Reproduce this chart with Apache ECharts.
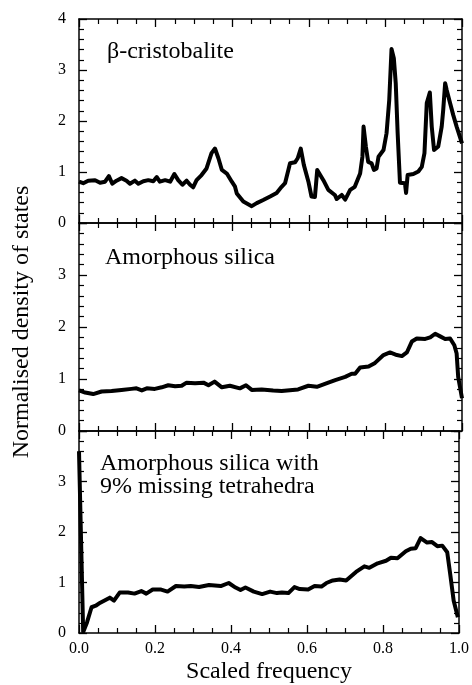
<!DOCTYPE html>
<html>
<head>
<meta charset="utf-8">
<script src="https://cdn.jsdelivr.net/npm/echarts@6/dist/echarts.min.js"></script>
<style>
  html, body { margin: 0; padding: 0; background: #fff; }
  #chart { width: 472px; height: 685px; }
</style>
</head>
<body>
<div id="chart"></div>
<script>
// scaled frequency (x) and normalised DOS (y)
var cristFreq = [0, .011, .024, .042, .055, .068, .078, .087, .098, .111, .124, .133, .146, .155, .168, .181, .194, .203, .211, .225,
  .238, .249, .259, .27, .281, .29, .298, .307, .32, .333, .346, .355, .364, .373, .386, .399, .407, .412, .429, .451,
  .464, .481, .499, .516, .529, .538, .551, .564, .571, .579, .587, .599, .607, .616, .622, .627, .638, .651, .668, .673,
  .686, .695, .708, .72, .734, .74, .743, .749, .755, .764, .77, .777, .782, .795, .803, .81, .816, .822, .827, .832,
  .838, .851, .854, .858, .873, .886, .895, .902, .908, .916, .921, .927, .938, .947, .951, .956, .96, .969, .977, .986, 1.0];
var cristDos = [.81, .78, .83, .84, .79, .81, .92, .77, .83, .88, .83, .77, .83, .77, .82, .84, .82, .90, .81, .84,
  .81, .96, .84, .75, .83, .75, .70, .84, .94, 1.07, 1.37, 1.46, 1.27, 1.04, .97, .81, .72, .58, .42, .33,
  .39, .45, .52, .59, .71, .78, 1.17, 1.19, 1.27, 1.46, 1.14, .81, .52, .51, 1.04, 1.07, .84, .65, .55, .47,
  .55, .46, .65, .71, .97, 1.3, 1.89, 1.5, 1.2, 1.17, 1.04, 1.07, 1.3, 1.43, 1.76, 2.41, 3.41, 3.23, 2.74, 1.76,
  .79, .78, .59, .94, .96, 1.01, 1.10, 1.37, 2.35, 2.56, 1.89, 1.43, 1.5, 1.89, 2.22, 2.74, 2.61, 2.35, 2.12, 1.89, 1.56];

var amorFreq = [0, .016, .037, .059, .085, .111, .137, .15, .164, .177, .198, .216, .233, .251, .268, .281, .303, .325, .338, .354,
  .373, .394, .42, .436, .451, .477, .507, .529, .572, .599, .621, .651, .669, .695, .712, .721, .734, .756, .773, .795,
  .812, .83, .843, .856, .869, .882, .904, .917, .93, .943, .956, .969, .98, .986, .99, 1.0];
var amorDos = [.78, .74, .71, .76, .77, .79, .81, .82, .78, .82, .81, .84, .88, .86, .87, .93, .92, .93, .88, .95,
  .84, .87, .82, .88, .79, .80, .78, .77, .80, .87, .85, .93, .98, 1.04, 1.10, 1.10, 1.22, 1.24, 1.31, 1.46,
  1.51, 1.46, 1.44, 1.51, 1.72, 1.78, 1.77, 1.80, 1.87, 1.82, 1.77, 1.78, 1.65, 1.49, 1.04, .63];

var missFreq = [0, .011, .021, .033, .044, .056, .081, .092, .107, .129, .146, .164, .177, .194, .216, .233, .255, .277, .294, .316,
  .342, .373, .394, .412, .425, .438, .46, .482, .503, .521, .534, .551, .567, .581, .603, .62, .638, .651, .668, .686,
  .703, .729, .751, .764, .786, .808, .821, .838, .86, .873, .886, .899, .916, .929, .943, .956, .969, .977, .986, .997];
var missDos = [3.6, .02, .21, .51, .54, .60, .70, .64, .80, .80, .78, .83, .78, .86, .86, .82, .93, .92, .93, .91,
  .95, .93, .99, .90, .85, .90, .82, .77, .82, .79, .80, .79, .91, .87, .86, .93, .92, .99, 1.04, 1.06,
  1.04, 1.21, 1.32, 1.29, 1.38, 1.43, 1.49, 1.48, 1.62, 1.67, 1.68, 1.88, 1.79, 1.80, 1.72, 1.73, 1.60, 1.16, .64, .31];

var panelNames = ['β-cristobalite', 'Amorphous silica', 'Amorphous silica with\n9% missing tetrahedra'];

function pairs(xs, ys) {
  return xs.map(function (x, i) { return [x, ys[i]]; });
}

var serif = '"Liberation Serif", "DejaVu Serif", serif';
var panels = [
  { top: 19, height: 204, data: pairs(cristFreq, cristDos) },
  { top: 223, height: 208, data: pairs(amorFreq, amorDos) },
  { top: 431, height: 205, data: pairs(missFreq, missDos) }
];

var grid = [], xAxis = [], yAxis = [], series = [];
var axisLine = { show: true, onZero: false, lineStyle: { color: '#000', width: 1.5 } };

panels.forEach(function (p, i) {
  grid.push({ left: 79, width: 383, top: p.top, height: p.height, show: false });
  var last = i === panels.length - 1;
  ['bottom', 'top'].forEach(function (pos) {
    xAxis.push({
      type: 'value', gridIndex: i, position: pos, min: 0, max: 1, interval: 0.2,
      axisLine: axisLine,
      axisTick: { show: true, inside: true, length: 8, lineStyle: { color: '#000', width: 1.3 } },
      minorTick: { show: true, splitNumber: 4, length: 5, lineStyle: { color: '#000', width: 1.2 } },
      splitLine: { show: false },
      axisLabel: {
        show: last && pos === 'bottom', margin: 8, color: '#000', fontFamily: serif, fontSize: 16,
        formatter: function (v) { return v.toFixed(1); }
      },
      name: last && pos === 'bottom' ? 'Scaled frequency' : '',
      nameLocation: 'middle', nameGap: 27,
      nameTextStyle: { color: '#000', fontFamily: serif, fontSize: 24 }
    });
  });
  ['left', 'right'].forEach(function (pos) {
    yAxis.push({
      type: 'value', gridIndex: i, position: pos, min: 0, max: 4, interval: 1,
      axisLine: axisLine,
      axisTick: { show: true, inside: true, length: 8, lineStyle: { color: '#000', width: 1.3 } },
      minorTick: { show: true, splitNumber: 5, length: 5, lineStyle: { color: '#000', width: 1.2 } },
      splitLine: { show: false },
      axisLabel: {
        show: pos === 'left', margin: 13, color: '#000', fontFamily: serif, fontSize: 16,
        formatter: function (v) { return (i > 0 && v === 4) ? '' : String(v); }
      }
    });
  });
  series.push({
    type: 'line', xAxisIndex: 2 * i, yAxisIndex: 2 * i, data: p.data,
    showSymbol: false, clip: true,
    lineStyle: { color: '#000', width: 4, join: 'round' }
  });
});

var labelStyle = { font: '24px ' + serif, fill: '#000', verticalAlign: 'middle' };
var graphic = [
  { type: 'text', left: 107, top: 40, style: Object.assign({ text: panelNames[0] }, labelStyle) },
  { type: 'text', left: 105, top: 246, style: Object.assign({ text: panelNames[1] }, labelStyle) },
  { type: 'text', left: 100, top: 452, style: Object.assign({ text: panelNames[2], lineHeight: 23 }, labelStyle) },
  {
    type: 'text', x: 22, y: 322, rotation: Math.PI / 2,
    style: { text: 'Normalised density of states', font: '24px ' + serif, fill: '#000', align: 'center', verticalAlign: 'middle' }
  }
];

var myChart = echarts.init(document.getElementById('chart'));
myChart.setOption({
  animation: false,
  backgroundColor: '#fff',
  grid: grid,
  xAxis: xAxis,
  yAxis: yAxis,
  series: series,
  graphic: graphic
});
</script>
</body>
</html>
